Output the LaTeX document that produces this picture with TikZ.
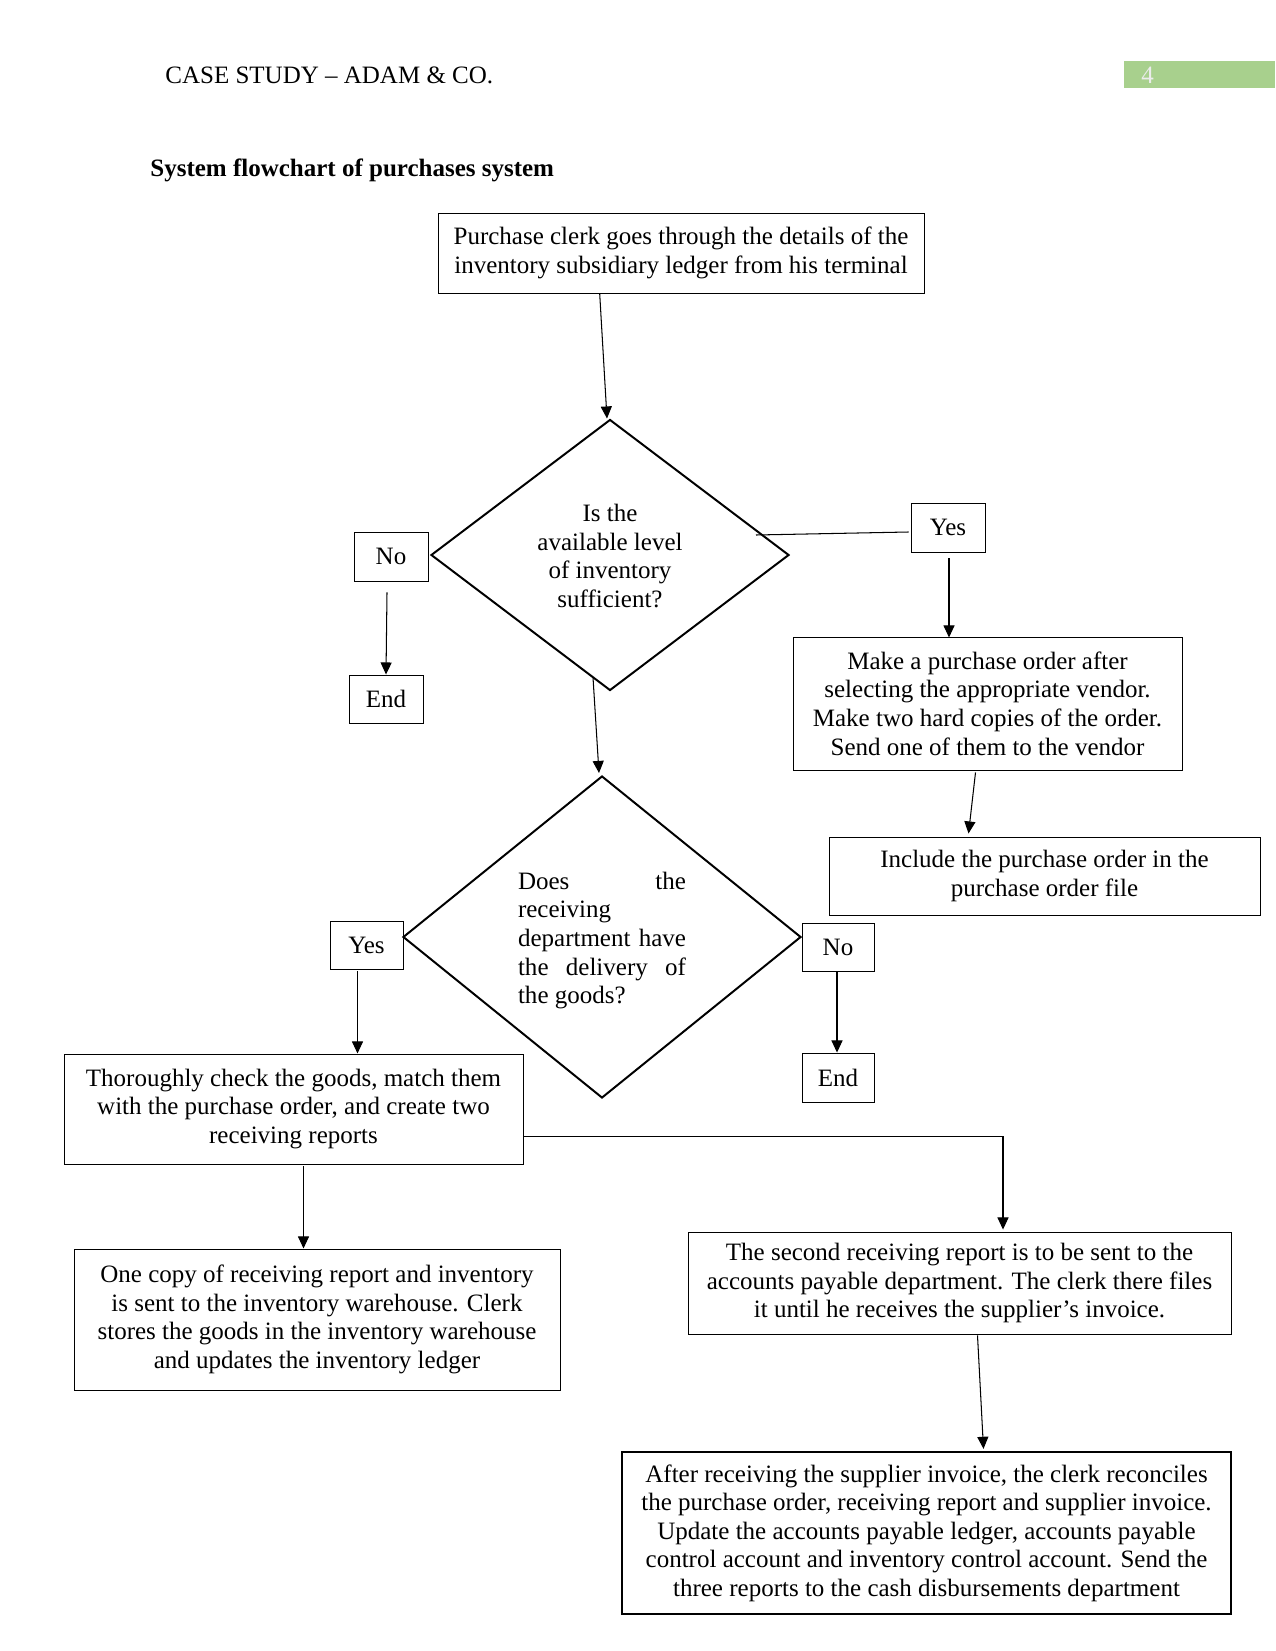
\documentclass[tikz,border=0pt]{standalone}
\usepackage{fontspec}
\setmainfont{Liberation Serif}
\usetikzlibrary{shapes.geometric,arrows.meta,calc}
\definecolor{hdrgreen}{HTML}{A8D08D}
\def\pxu{0.48pt}
\tikzset{
  fnt/.style={font=\fontsize{12pt}{13.7pt}\selectfont},
  box/.style={draw, line width=0.45pt, inner sep=0pt, align=center, fnt},
  thickbox/.style={box, line width=1.1pt},
  dia/.style={draw, diamond, line width=0.95pt, inner sep=0pt},
  arr/.style={line width=0.5pt, -{Triangle[length=5.8pt,width=5.3pt]}},
  ln/.style={line width=0.5pt},
  txt/.style={align=center, inner sep=0pt, fnt},
}
\begin{document}
\begin{tikzpicture}[x=0.48pt,y=-0.48pt]
\useasboundingbox (0,0) rectangle (1275,1651);
% header
\node[anchor=base west, inner sep=0pt, fnt] (hdr) at (165,84) {CASE STUDY -- ADAM \& CO.};
\fill[hdrgreen] (1124,61) rectangle (1275,88);
\node[anchor=base west, inner sep=0pt, fnt, text=white!85!gray] (pg) at (1141,84) {4};
\node[anchor=base west, inner sep=0pt, fnt, font=\fontsize{12pt}{13.7pt}\selectfont\bfseries] (title) at (150,177) {System flowchart of purchases system};

% boxes
\node[box, minimum width=486*\pxu, minimum height=80*\pxu] (b1) at (681,253)
  {Purchase clerk goes through the details of the\\inventory subsidiary ledger from his terminal};

\node[dia, minimum width=358*\pxu, minimum height=271*\pxu] (d1) at (610,555) {};
\node[txt] (d1t) at (610,556) {Is the\\available level\\of inventory\\sufficient?};

\node[box, minimum width=74*\pxu, minimum height=49*\pxu] (no1) at (391,556.5) {No};
\node[box, minimum width=74*\pxu, minimum height=48*\pxu] (end1) at (386,699) {End};
\node[box, minimum width=74*\pxu, minimum height=49*\pxu] (yes1) at (948,527.5) {Yes};

\node[box, minimum width=389*\pxu, minimum height=133*\pxu] (po) at (987.5,703.5)
  {Make a purchase order after\\selecting the appropriate vendor.\\Make two hard copies of the order.\\Send one of them to the vendor};
\node[box, minimum width=431*\pxu, minimum height=78*\pxu] (incl) at (1044.5,876)
  {Include the purchase order in the\\purchase order file};

\node[dia, minimum width=398*\pxu, minimum height=322*\pxu] (d2) at (602,937) {};
\node[inner sep=0pt, fnt] (d2t) at (602,940.5) {\parbox{80.6pt}{%
  \hbox to 80.6pt{Does\hfill the}%
  \hbox to 80.6pt{receiving\hfill}%
  \hbox to 80.6pt{department\hfill have}%
  \hbox to 80.6pt{the\hfill delivery\hfill of}%
  \hbox to 80.6pt{the goods?\hfill}}};

\node[box, minimum width=73*\pxu, minimum height=48*\pxu] (yes2) at (366.5,945) {Yes};
\node[box, minimum width=72*\pxu, minimum height=48*\pxu] (no2) at (838,947) {No};
\node[box, minimum width=72*\pxu, minimum height=49*\pxu] (end2) at (838,1077.5) {End};

\node[box, minimum width=459*\pxu, minimum height=110*\pxu] (thor) at (293.5,1109)
  {Thoroughly check the goods, match them\\with the purchase order, and create two\\receiving reports};
\node[box, minimum width=486*\pxu, minimum height=141*\pxu] (one) at (317,1319.5)
  {One copy of receiving report and inventory\\is sent to the inventory warehouse. Clerk\\stores the goods in the inventory warehouse\\and updates the inventory ledger};
\node[box, minimum width=543*\pxu, minimum height=102*\pxu] (second) at (959.5,1283)
  {The second receiving report is to be sent to the\\accounts payable department. The clerk there files\\it until he receives the supplier’s invoice.};
\node[thickbox, minimum width=609*\pxu, minimum height=162*\pxu] (after) at (926.5,1533)
  {After receiving the supplier invoice, the clerk reconciles\\the purchase order, receiving report and supplier invoice.\\Update the accounts payable ledger, accounts payable\\control account and inventory control account. Send the\\three reports to the cash disbursements department};

% connectors
\draw[arr] ($(b1.south west)!0.333!(b1.south east)$) -- ($(d1.north)+(-3,0)$);
\coordinate (d1y) at ($(d1.east)+(-34,-20)$);
\draw[ln] (d1y) -- ($(yes1.west)+(-2,4.5)$);
\draw[arr] ($(yes1.south)+(1,6)$) -- ($(yes1.south)+(1,85)$);
\draw[arr] ($(no1.south)+(-4,11)$) -- (end1.north);
\draw[arr] ($(d1.south)+(-17,-14)$) -- ($(d2.north)+(-3,-2)$);
\draw[arr] ($(po.south)+(-12,2)$) -- ($(incl.north)+(-76,-3)$);
\draw[arr] ($(yes2.south)+(-9,2)$) -- ($(yes2.south)+(-9,84)$);
\draw[arr] ($(no2.south)+(-1,1)$) -- ($(end2.north)+(-1,0)$);
\draw[arr] ($(thor.south)+(10,2)$) -- ($(thor.south)+(10,84)$);
\draw[arr] ($(thor.south east)+(0,-28)$) -| ($(second.north)+(43.5,-2)$);
\draw[arr] ($(second.south)+(18,1)$) -- ($(after.north)+(57,-2)$);
\end{tikzpicture}
\end{document}
